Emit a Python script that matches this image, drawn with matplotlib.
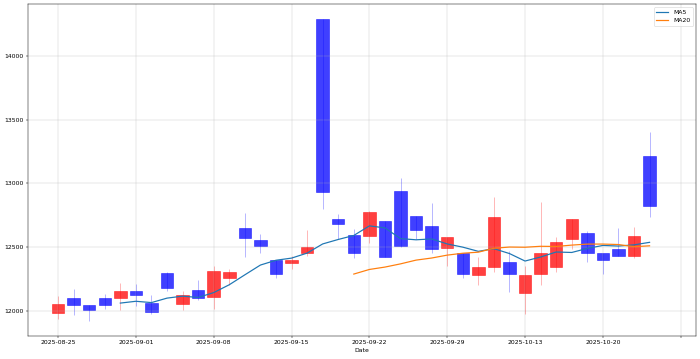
import numpy as np
import pandas as pd
import matplotlib
matplotlib.use('Agg')
import matplotlib.pyplot as plt

dates = ['2025-08-25', '2025-08-26', '2025-08-27', '2025-08-28', '2025-08-29',
         '2025-09-01', '2025-09-02', '2025-09-03', '2025-09-04', '2025-09-05',
         '2025-09-08', '2025-09-09', '2025-09-10', '2025-09-11', '2025-09-12',
         '2025-09-15', '2025-09-16', '2025-09-17', '2025-09-18', '2025-09-19',
         '2025-09-22', '2025-09-23', '2025-09-24', '2025-09-25', '2025-09-26',
         '2025-09-29', '2025-09-30', '2025-10-01', '2025-10-02', '2025-10-10',
         '2025-10-13', '2025-10-14', '2025-10-15', '2025-10-16', '2025-10-17',
         '2025-10-20', '2025-10-21', '2025-10-22', '2025-10-23']

open_ = [11982, 12103, 12043, 12103, 12098, 12155, 12063, 12295, 12050, 12163,
         12108, 12260, 12650, 12555, 12397, 12371, 12457, 14290, 12721, 12597,
         12589, 12702, 12938, 12747, 12668, 12492, 12457, 12282, 12345, 12384,
         12142, 12292, 12345, 12563, 12610, 12450, 12484, 12426, 13214]
close = [12050, 12043, 12006, 12043, 12155, 12121, 11992, 12181, 12121, 12103,
         12313, 12300, 12571, 12505, 12292, 12397, 12497, 12931, 12681, 12450,
         12773, 12418, 12510, 12634, 12484, 12576, 12292, 12345, 12739, 12292,
         12282, 12450, 12542, 12721, 12450, 12400, 12426, 12589, 12820]
high = [12116, 12169, 12043, 12129, 12221, 12213, 12120, 12305, 12155, 12240,
        12352, 12331, 12768, 12603, 12400, 12431, 12634, 14290, 12760, 12642,
        12786, 12702, 13041, 12747, 12844, 12576, 12457, 12418, 12891, 12471,
        12352, 12852, 12581, 12721, 12628, 12450, 12650, 12660, 13404]
low = [11932, 11964, 11919, 12011, 12003, 12037, 11976, 12155, 12003, 12082,
       12011, 12203, 12418, 12450, 12260, 12326, 12431, 12800, 12563, 12410,
       12528, 12418, 12500, 12563, 12457, 12352, 12260, 12203, 12300, 12150,
       11972, 12203, 12300, 12484, 12386, 12292, 12426, 12413, 12739]

df = pd.DataFrame({'Open': open_, 'High': high, 'Low': low, 'Close': close}, index=dates)
df['MA5'] = df['Close'].rolling(5).mean()
df['MA20'] = df['Close'].rolling(20).mean()

x = np.arange(len(df))
up = df['Close'] >= df['Open']
colors = np.where(up, 'red', 'blue')

fig, ax = plt.subplots(figsize=(16, 8.206), dpi=43.75)
ax.vlines(x, df['Low'], df['High'], colors=colors, linewidth=1.5, alpha=0.3)
ax.bar(x, (df['Close'] - df['Open']).abs(), bottom=np.minimum(df['Open'], df['Close']),
       width=0.8, color=colors, alpha=0.75, edgecolor=colors)
ax.plot(x, df['MA5'], label='MA5', linewidth=2)
ax.plot(x, df['MA20'], label='MA20', linewidth=2)

ticks = list(range(0, 41, 5))
ax.set_xticks(ticks)
ax.set_xticklabels([dates[t] if t < len(dates) else '' for t in ticks])
ax.set_xlim(-1.93, 40.97)
ax.set_yticks([12000, 12500, 13000, 13500, 14000])
ax.set_xlabel('Date')
ax.grid(True, alpha=0.6)
ax.legend(loc='upper right')

plt.subplots_adjust(left=0.04, right=0.994, top=0.988, bottom=0.064)
plt.savefig('out.png')
